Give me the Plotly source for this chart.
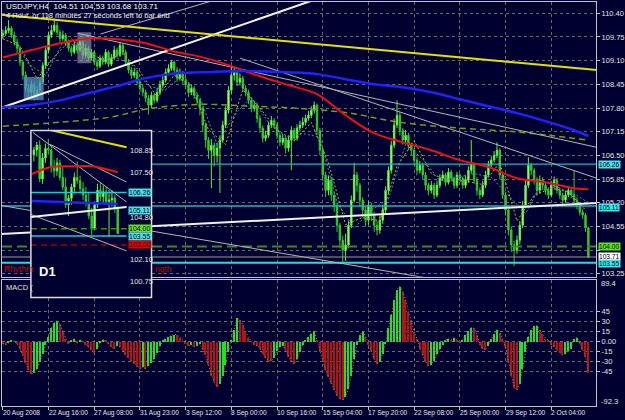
import plotly.graph_objects as go

# ---------------- H4 candles : USDJPY, 20 Aug - 3 Oct 2008 ----------------
BARS = list(range(206))
OPEN = [
    109.80, 109.85, 109.93, 109.99, 109.80, 109.61, 109.44, 109.06, 108.70, 108.34,
    108.23, 108.43, 108.15, 108.29, 108.51, 108.97, 109.39, 109.80, 109.93, 110.07,
    109.88, 109.71, 109.80, 109.61, 109.44, 109.33, 109.52, 109.39, 109.61, 109.25,
    109.44, 109.17, 109.33, 109.06, 108.95, 109.17, 109.06, 109.33, 109.00, 109.17,
    109.39, 109.25, 109.52, 109.33, 109.06, 108.84, 108.70, 108.78, 108.51, 108.34,
    108.23, 108.07, 107.88, 108.15, 108.01, 108.23, 108.43, 108.56, 108.78, 108.89,
    109.06, 108.84, 108.62, 108.78, 108.56, 108.43, 108.23, 108.34, 108.15, 108.01,
    107.79, 107.33, 106.92, 106.64, 106.78, 106.50, 106.70, 106.92, 107.33, 107.74,
    108.29, 108.70, 108.78, 108.51, 108.62, 108.34, 108.23, 108.01, 107.79, 107.88,
    107.52, 107.25, 106.97, 107.05, 107.33, 107.46, 107.33, 107.05, 106.86, 106.97,
    106.70, 106.92, 107.19, 106.97, 107.25, 107.33, 107.41, 107.52, 107.60, 107.74,
    107.88, 107.19, 106.64, 105.96, 105.54, 105.82, 105.41, 105.13, 104.58, 104.17,
    103.90, 104.04, 104.58, 105.27, 105.96, 105.68, 105.27, 105.00, 104.72, 105.13,
    104.86, 104.58, 104.45, 104.72, 105.00, 105.54, 106.09, 106.78, 107.33, 107.60,
    107.19, 106.92, 107.05, 106.78, 106.64, 106.37, 106.09, 106.23, 105.96, 105.68,
    105.54, 105.68, 105.41, 105.68, 105.87, 105.96, 105.76, 106.04, 105.87, 105.68,
    105.96, 105.87, 105.68, 105.82, 106.09, 106.23, 105.82, 105.54, 105.41, 105.68,
    105.96, 106.23, 106.37, 106.50, 106.64, 105.96, 105.41, 105.00, 104.45, 104.04,
    103.90, 104.17, 104.58, 105.13, 105.68, 106.23, 106.09, 105.82, 105.54, 105.82,
    105.68, 105.54, 105.41, 105.68, 105.82, 105.54, 105.41, 105.27, 105.41, 105.54,
    105.41, 105.27, 105.13, 104.94, 104.86, 104.51]
HIGH = [
    109.95, 110.05, 110.21, 110.05, 109.90, 109.70, 109.50, 109.12, 108.80, 108.45,
    108.55, 108.50, 108.40, 108.62, 109.05, 109.50, 109.90, 110.08, 110.26, 110.15,
    109.95, 109.92, 109.86, 109.68, 109.50, 109.62, 109.60, 109.72, 109.66, 109.55,
    109.50, 109.42, 109.38, 109.15, 109.25, 109.24, 109.42, 109.38, 109.28, 109.50,
    109.46, 109.62, 109.58, 109.40, 109.12, 108.92, 108.90, 108.85, 108.60, 108.45,
    108.30, 108.15, 108.25, 108.22, 108.35, 108.55, 108.70, 108.88, 109.00, 109.12,
    109.10, 108.92, 108.88, 108.82, 108.65, 108.50, 108.45, 108.40, 108.22, 108.08,
    107.85, 107.40, 107.00, 106.95, 106.85, 106.85, 107.05, 107.45, 107.85, 108.40,
    108.92, 108.90, 108.85, 108.75, 108.68, 108.42, 108.30, 108.08, 108.00, 107.95,
    107.60, 107.32, 107.18, 107.42, 107.58, 107.52, 107.40, 107.12, 107.08, 107.02,
    107.05, 107.30, 107.25, 107.35, 107.45, 107.55, 107.62, 107.72, 107.85, 107.98,
    107.92, 107.25, 106.70, 106.05, 105.95, 105.90, 105.50, 105.20, 104.65, 104.30,
    104.35, 104.70, 105.40, 106.30, 106.05, 105.75, 105.35, 105.10, 105.25, 105.20,
    104.95, 104.70, 104.85, 105.15, 105.65, 106.20, 106.90, 107.50, 108.01, 107.70,
    107.25, 107.20, 107.12, 106.85, 106.70, 106.45, 106.35, 106.30, 106.05, 105.75,
    105.80, 105.75, 105.80, 105.98, 106.08, 106.02, 106.15, 106.10, 105.92, 106.05,
    106.02, 105.92, 105.95, 106.20, 106.92, 106.30, 105.90, 105.62, 105.80, 106.08,
    106.35, 106.48, 106.62, 106.86, 106.70, 106.02, 105.50, 105.08, 104.55, 104.15,
    104.30, 104.70, 105.25, 105.80, 106.45, 106.30, 106.15, 105.90, 105.95, 105.90,
    105.75, 105.62, 105.80, 105.92, 105.88, 105.60, 105.48, 105.52, 105.62, 105.60,
    106.09, 105.35, 105.20, 105.02, 104.92, 104.53]
LOW = [
    109.70, 109.78, 109.85, 109.72, 109.52, 109.30, 108.95, 108.58, 108.25, 108.05,
    108.12, 108.01, 108.05, 108.20, 108.45, 108.90, 109.30, 109.72, 109.88, 109.80,
    109.60, 109.65, 109.50, 109.35, 109.22, 109.28, 109.30, 109.34, 109.15, 109.18,
    109.08, 109.10, 108.98, 108.85, 108.90, 108.98, 109.00, 108.92, 108.95, 109.12,
    109.18, 109.20, 109.25, 108.98, 108.75, 108.60, 108.62, 108.42, 108.25, 108.12,
    107.95, 107.62, 107.80, 107.92, 107.95, 108.15, 108.35, 108.50, 108.70, 108.82,
    108.75, 108.52, 108.55, 108.45, 108.32, 108.10, 108.15, 108.05, 107.90, 107.60,
    107.15, 106.70, 106.40, 105.60, 106.20, 106.30, 105.47, 106.85, 107.25, 107.65,
    108.20, 108.55, 108.40, 108.42, 108.25, 108.12, 107.90, 107.68, 107.70, 107.40,
    107.12, 106.85, 106.88, 106.98, 107.25, 107.22, 106.95, 106.75, 106.78, 106.55,
    106.60, 106.09, 106.88, 106.90, 107.15, 107.25, 107.32, 107.45, 107.52, 107.65,
    107.05, 106.50, 105.80, 105.35, 105.40, 105.25, 104.95, 104.40, 103.95, 103.57,
    103.60, 103.95, 104.50, 105.20, 105.50, 105.10, 104.80, 104.55, 104.60, 104.70,
    104.40, 104.30, 104.35, 104.62, 104.90, 105.45, 106.00, 106.70, 107.25, 107.05,
    106.80, 106.85, 106.65, 106.50, 106.25, 105.95, 106.00, 105.85, 105.55, 105.40,
    105.45, 105.30, 105.35, 105.60, 105.80, 105.65, 105.70, 105.78, 105.58, 105.60,
    105.78, 105.58, 105.60, 105.75, 106.00, 105.72, 105.40, 105.30, 105.35, 105.60,
    105.90, 106.15, 106.30, 106.42, 105.85, 105.30, 104.85, 104.30, 103.85, 103.46,
    103.80, 104.05, 104.50, 105.05, 105.60, 105.95, 105.70, 105.40, 105.45, 105.55,
    105.42, 105.30, 105.35, 105.60, 105.45, 105.30, 105.15, 105.20, 105.35, 105.32,
    105.20, 105.02, 104.85, 104.75, 104.40, 103.68]
CLOSE = [
    109.85, 109.93, 109.99, 109.80, 109.61, 109.44, 109.06, 108.70, 108.34, 108.23,
    108.43, 108.15, 108.29, 108.51, 108.97, 109.39, 109.80, 109.93, 110.07, 109.88,
    109.71, 109.80, 109.61, 109.44, 109.33, 109.52, 109.39, 109.61, 109.25, 109.44,
    109.17, 109.33, 109.06, 108.95, 109.17, 109.06, 109.33, 109.00, 109.17, 109.39,
    109.25, 109.52, 109.33, 109.06, 108.84, 108.70, 108.78, 108.51, 108.34, 108.23,
    108.07, 107.88, 108.15, 108.01, 108.23, 108.43, 108.56, 108.78, 108.89, 109.06,
    108.84, 108.62, 108.78, 108.56, 108.43, 108.23, 108.34, 108.15, 108.01, 107.79,
    107.33, 106.92, 106.64, 106.78, 106.50, 106.70, 106.92, 107.33, 107.74, 108.29,
    108.70, 108.78, 108.51, 108.62, 108.34, 108.23, 108.01, 107.79, 107.88, 107.52,
    107.25, 106.97, 107.05, 107.33, 107.46, 107.33, 107.05, 106.86, 106.97, 106.70,
    106.92, 107.19, 106.97, 107.25, 107.33, 107.41, 107.52, 107.60, 107.74, 107.88,
    107.19, 106.64, 105.96, 105.54, 105.82, 105.41, 105.13, 104.58, 104.17, 103.90,
    104.04, 104.58, 105.27, 105.96, 105.68, 105.27, 105.00, 104.72, 105.13, 104.86,
    104.58, 104.45, 104.72, 105.00, 105.54, 106.09, 106.78, 107.33, 107.60, 107.19,
    106.92, 107.05, 106.78, 106.64, 106.37, 106.09, 106.23, 105.96, 105.68, 105.54,
    105.68, 105.41, 105.68, 105.87, 105.96, 105.76, 106.04, 105.87, 105.68, 105.96,
    105.87, 105.68, 105.82, 106.09, 106.23, 105.82, 105.54, 105.41, 105.68, 105.96,
    106.23, 106.37, 106.50, 106.64, 105.96, 105.41, 105.00, 104.45, 104.04, 103.90,
    104.17, 104.58, 105.13, 105.68, 106.23, 106.09, 105.82, 105.54, 105.82, 105.68,
    105.54, 105.41, 105.68, 105.82, 105.54, 105.41, 105.27, 105.41, 105.54, 105.41,
    105.27, 105.13, 104.94, 104.86, 104.51, 103.71]

# MACD histogram (one value per H4 bar)
MACD = [
    -3, -5, -2, 2, 0, -3, -10, -20, -32, -42,
    -48, -47, -40, -30, -18, -5, 8, 20, 28, 31,
    26, 15, 5, -3, 2, 4, -2, 3, 1, -4,
    -8, -12, -16, -10, -2, 3, 2, -3, -8, -10,
    -6, -8, -14, -20, -24, -28, -33, -37, -40, -38,
    -40, -36, -32, -25, -16, -6, 2, 5, 7, 9,
    11, 10, 6, 1, -3, -6, -5, -8, -6, -3,
    -12, -20, -35, -50, -60, -67, -62, -50, -35, -15,
    2, 18, 35, 32, 25, 15, 6, 0, -4, -6,
    -10, -18, -24, -28, -29, -24, -14, -8, -6, -12,
    -22, -30, -33, -26, -15, -4, 3, 8, 12, 16,
    2, -15, -28, -42, -52, -62, -72, -80, -85, -87,
    -82, -70, -50, -25, -5, 10, 15, 8, -5, -15,
    -25, -33, -30, -18, -3, 20, 40, 62, 78, 82,
    75, 62, 45, 30, 15, 4, -10, -20, -30, -36,
    -34, -28, -18, -10, -4, 2, 5, 3, 6, 2,
    -2, 3, 10, 16, 21, 20, 10, -4, -10, -12,
    -6, 4, 12, 18, 14, 4, -8, -28, -50, -68,
    -72, -62, -40, -15, 8, 18, 23, 24, 18, 12,
    5, 2, -4, -8, -12, -16, -20, -18, -14, -10,
    4, 6, -3, -12, -22, -46]

# moving averages (sampled at bars)
MA_X = [0, 10, 20, 30, 40, 50, 60, 70, 80, 90, 100, 110, 120, 130, 140, 150, 160, 170, 180, 190, 200, 205]
MA_RED = [109.19, 109.39, 109.58, 109.71, 109.69, 109.58, 109.35, 109.19, 108.95, 108.67, 108.43,
          108.18, 107.60, 107.11, 106.86, 106.64, 106.37, 106.18, 105.87, 105.76, 105.60, 105.57]
MA_BLUE = [107.82, 107.88, 108.01, 108.21, 108.40, 108.62, 108.75, 108.78, 108.81, 108.81, 108.78,
           108.73, 108.59, 108.45, 108.37, 108.23, 108.04, 107.85, 107.66, 107.44, 107.19, 107.03]
MA_OLIVE_X = [0, 20.2, 37.6, 51.6, 69, 86.4, 103.8, 121.3, 138.7, 159.6, 180.5, 204.9]
MA_OLIVE = [107.30, 107.41, 107.55, 107.79, 107.90, 107.85, 107.79, 107.66, 107.41, 107.25, 107.14, 106.92]
DOT_Y_X = [0, 6, 12, 18, 24, 30, 36, 42, 48, 54, 60, 66, 72, 78, 84, 90, 96, 102, 108, 114, 120,
           126, 132, 138, 144, 150, 156, 162, 168, 174, 180, 186, 192, 198, 204]
DOT_Y = [109.7, 109.5, 108.6, 109.2, 109.7, 109.3, 109.1, 109.3, 108.8, 108.1, 108.7, 108.4, 107.2,
         106.8, 108.3, 107.8, 107.2, 106.9, 107.4, 106.3, 104.6, 104.8, 104.7, 106.2, 106.9, 106.0,
         105.8, 105.8, 105.7, 106.3, 104.7, 105.4, 105.6, 105.5, 105.0]
DOT_C_X = [3, 9, 15, 21, 27, 33, 39, 45, 51, 57, 63, 69, 75, 81, 87, 93, 99, 105, 111, 117, 123,
           129, 135, 141, 147, 153, 159, 165, 171, 177, 183, 189, 195, 201, 205]
DOT_C = [109.8, 109.0, 108.7, 109.6, 109.5, 109.1, 109.2, 109.0, 108.4, 108.3, 108.7, 108.1, 106.8,
         107.6, 108.1, 107.4, 107.0, 107.1, 107.0, 105.2, 104.5, 105.0, 105.3, 106.8, 106.4, 105.8,
         105.9, 106.0, 105.9, 105.4, 104.9, 105.8, 105.6, 105.4, 105.2]

# trend lines: (bars, prices)
TL_YELLOW = ([-1, 208], [110.36, 108.84])
TL_WHITE_UP = ([0, 115], [107.82, 110.93])
TL_WHITE_LOW = ([-1, 208], [104.34, 105.19])
TL_GRAY = [([26.2, 208], [109.85, 106.72]),
           ([83, 208], [109.17, 105.87]),
           ([-1, 208], [105.13, 102.34]),
           ([34.1, 90], [109.83, 111.13])]

# horizontal levels
CYAN_LEVELS = [106.26, 105.11]
CYAN_STRONG = 103.55
GREEN_LEVEL = 104.00
BID = 103.71

# shaded zones (bar0, bar1, price0, price1)
BLUE_ZONE = (7.3, 14.3, 108.01, 108.65)
GRAY_ZONE = (26.1, 31.0, 109.03, 109.88)

PRICE_TICKS = [110.40, 109.75, 109.10, 108.45, 107.80, 107.15, 106.50, 105.85, 105.20, 104.55, 103.90, 103.25]
PRICE_TICKTEXT = ["110.40", "109.75", "109.10", "108.45", "107.80", "107.15", "106.50", "105.85",
                  "105.20", "104.55", "", "103.25"]
MACD_TICKS = [45, 30, 15, 0, -15, -30, -45]
MACD_TICKTEXT = ["45", "30", "15", "0.00", "-15", "-30", "-45"]
TIME_TICKS = [0, 16, 32, 48, 64, 80, 96, 112, 128, 144, 160, 176, 192]
TIME_LABELS = ["20 Aug 2008", "22 Aug 16:00", "27 Aug 08:00", "31 Aug 23:00", "3 Sep 12:00",
               "8 Sep 00:00", "10 Sep 16:00", "15 Sep 04:00", "17 Sep 20:00", "22 Sep 08:00",
               "25 Sep 00:00", "29 Sep 12:00", "2 Oct 04:00"]

# ---------------- D1 inset ----------------
D_BARS = list(range(30))
D_OPEN = [108.60, 108.90, 109.20, 107.10, 108.40, 109.00, 108.90, 107.80, 107.60, 108.10,
          107.20, 106.60, 105.50, 105.90, 106.60, 107.20, 107.00, 106.50, 106.10, 105.60,
          104.80, 104.00, 105.50, 106.40, 106.00, 106.30, 105.70, 105.80, 105.90, 105.30]
D_HIGH = [109.10, 109.40, 109.50, 108.70, 109.30, 109.60, 109.20, 108.30, 108.40, 108.30,
          107.90, 107.20, 106.10, 106.80, 107.50, 108.20, 107.30, 106.90, 106.60, 106.30,
          105.30, 105.70, 106.80, 106.90, 106.70, 106.60, 106.40, 106.40, 106.10, 105.40]
D_LOW = [108.20, 108.50, 106.90, 106.80, 108.10, 108.60, 107.50, 107.20, 107.30, 107.00,
         106.40, 105.30, 104.80, 105.50, 106.20, 106.80, 106.20, 105.80, 105.40, 104.60,
         103.60, 103.90, 105.30, 105.70, 105.60, 105.50, 103.50, 105.40, 105.00, 103.68]
D_CLOSE = [108.90, 109.20, 107.10, 108.40, 109.00, 108.90, 107.80, 107.60, 108.10, 107.20,
           106.60, 105.50, 105.90, 106.60, 107.20, 107.00, 106.50, 106.10, 105.60, 104.80,
           104.00, 105.50, 106.40, 106.00, 106.30, 105.70, 105.80, 105.90, 105.30, 103.71]
IN_YELLOW = ([0, 32.07], [110.37, 109.07])
IN_RED_X = [-0.7, 5.5, 14.8, 20.3, 29]
IN_RED = [107.40, 107.83, 107.89, 107.89, 107.52]
IN_BLUE = ([-0.7, 29], [105.73, 105.54])
IN_WHITE = ([-1.03, 32.07], [104.74, 105.36])
IN_GRAYS = [([-0.34, 32.07], [109.99, 105.67]),
            ([5.5, 32.07], [109.26, 106.91]),
            ([-1.38, 32.07], [104.92, 102.63])]
IN_CYAN = [106.26, 103.55]
IN_GREEN = 104.00
IN_RED_LEVEL = 103.00
IN_TICKS = [108.85, 107.50, 106.15, 104.80, 103.45, 102.10, 100.75]
IN_TICK_SHOWN = [108.85, 107.50, 104.80, 102.10, 100.75]
IN_VGRID = [0, 8, 16, 24]
IN_AXIS_K = 32.07

# ---------------- style ----------------
BG = "#000030"
GRID = "#6a6a6a"
AXC = "#c4c4c4"
TXT = "#e4e4e4"
FONT = "Liberation Sans"
W, H = 625, 420
XR = [-0.3, 207.7]
YR = [103.17, 110.71]
Y2R = [-96, 92.2]
X3R = [-1.03, 40.69]
Y3R = [99.73, 110.12]


def dx(a, b):
    return [a / W, b / W]


def dy(top, bottom):
    return [1 - bottom / H, 1 - top / H]


fig = go.Figure()


def line(x, y, color, width=1, dash="solid", axes=("x", "y"), shape="linear"):
    fig.add_trace(go.Scatter(x=x, y=y, mode="lines", xaxis=axes[0], yaxis=axes[1],
                             line=dict(color=color, width=width, dash=dash, shape=shape),
                             hoverinfo="skip", showlegend=False))


candle_style = dict(
    increasing=dict(line=dict(color="#5cf03c", width=1), fillcolor="#c6ffb0"),
    decreasing=dict(line=dict(color="#36c82a", width=1), fillcolor="#36c82a"),
    whiskerwidth=0, hoverinfo="skip", showlegend=False)

# ---- main pane ----
fig.add_trace(go.Candlestick(x=BARS, open=OPEN, high=HIGH, low=LOW, close=CLOSE,
                             xaxis="x", yaxis="y", **candle_style))
for z, col in ((BLUE_ZONE, "rgba(80,140,190,0.78)"), (GRAY_ZONE, "rgba(150,155,175,0.62)")):
    fig.add_trace(go.Scatter(x=[z[0], z[1], z[1], z[0], z[0]], y=[z[2], z[2], z[3], z[3], z[2]],
                             fill="toself", fillcolor=col, mode="none", xaxis="x", yaxis="y",
                             hoverinfo="skip", showlegend=False))
line(MA_OLIVE_X, MA_OLIVE, "#7a9a1a", 1.5, "6px,4px", shape="spline")
line(DOT_Y_X, DOT_Y, "#c8b400", 1, "2px,2px")
line(DOT_C_X, DOT_C, "#20a8b0", 1, "2px,2px")
for lv in CYAN_LEVELS:
    line(XR, [lv, lv], "#1fb4bc", 1.3)
line(XR, [CYAN_STRONG, CYAN_STRONG], "#2ed8e0", 2)
line(XR, [GREEN_LEVEL, GREEN_LEVEL], "#3a8c1c", 2, "10px,5px")
line(XR, [BID, BID], "#9a9a9a", 1)
for xs, ys in TL_GRAY:
    line(xs, ys, "#b4b4b4", 1)
line(TL_WHITE_LOW[0], TL_WHITE_LOW[1], "#f0f0f0", 2)
line(TL_WHITE_UP[0], TL_WHITE_UP[1], "#f4f4f4", 2)
line(TL_YELLOW[0], TL_YELLOW[1], "#e2e200", 2)
line(MA_X, MA_RED, "#f01010", 2, shape="spline")
line(MA_X, MA_BLUE, "#2222ff", 2.5, shape="spline")

# ---- MACD pane ----
colors = ["#22e022" if (i > 0 and MACD[i] > MACD[i - 1]) else "#b01414" for i in range(len(MACD))]
fig.add_trace(go.Bar(x=BARS, y=MACD, marker=dict(color=colors, line=dict(width=0)), width=0.5,
                     xaxis="x2", yaxis="y2", hoverinfo="skip", showlegend=False))
line(BARS, MACD, "#8c8c8c", 1, "1px,2px", axes=("x2", "y2"))

# ---- D1 inset: background layer (x3/y3) ----
BA = ("x3", "y3")
fig.add_trace(go.Scatter(x=[X3R[0], X3R[1], X3R[1], X3R[0], X3R[0]],
                         y=[Y3R[0], Y3R[0], Y3R[1], Y3R[1], Y3R[0]],
                         fill="toself", fillcolor=BG, mode="none", xaxis="x3", yaxis="y3",
                         hoverinfo="skip", showlegend=False))
for k in IN_VGRID:
    line([k, k], Y3R, GRID, 1, "3px,3px", axes=BA)
for t in IN_TICKS:
    line([X3R[0], IN_AXIS_K], [t, t], GRID, 1, "3px,3px", axes=BA)
line([IN_AXIS_K, IN_AXIS_K], Y3R, AXC, 1, axes=BA)

# ---- D1 inset: content layer (x4/y4) ----
IA = ("x4", "y4")
fig.add_trace(go.Candlestick(x=D_BARS, open=D_OPEN, high=D_HIGH, low=D_LOW, close=D_CLOSE,
                             xaxis="x4", yaxis="y4", **candle_style))
for lv in IN_CYAN:
    line([X3R[0], IN_AXIS_K], [lv, lv], "#22c8d0", 1.5, axes=IA)
line([X3R[0], IN_AXIS_K], [IN_GREEN, IN_GREEN], "#3a8c1c", 1.5, "6px,4px", axes=IA)
line([X3R[0], IN_AXIS_K], [IN_RED_LEVEL, IN_RED_LEVEL], "#a00000", 1.5, "6px,4px", axes=IA)
for xs, ys in IN_GRAYS:
    line(xs, ys, "#b4b4b4", 1, axes=IA)
line(IN_WHITE[0], IN_WHITE[1], "#f0f0f0", 2, axes=IA)
line(IN_YELLOW[0], IN_YELLOW[1], "#e2e200", 2, axes=IA)
line(IN_RED_X, IN_RED, "#f01010", 2, axes=IA, shape="spline")
line(IN_BLUE[0], IN_BLUE[1], "#2222ff", 2.5, axes=IA)

# ---------------- annotations ----------------
ann = []
sm = dict(family=FONT, size=7.5, color=TXT)
xs_font = dict(family=FONT, size=6.6, color=TXT)


def label_box(text, y, yref, x, xref, bg, fg="#000000", yshift=0, size=7.0):
    ann.append(dict(text=text, x=x, xref=xref, y=y, yref=yref, xanchor="left", yanchor="middle",
                    showarrow=False, bgcolor=bg, borderpad=0, yshift=yshift,
                    font=dict(family=FONT, size=size, color=fg)))


for t in IN_TICK_SHOWN:
    ann.append(dict(text=f"{t:.2f}", x=IN_AXIS_K + 0.5, xref="x3", y=t, yref="y3",
                    xanchor="left", yanchor="middle", showarrow=False, font=sm,
                    yshift=-2 if t == 104.80 else 0))
for txt, val, bg, fg in (("106.26", 106.26, "#3ee6ee", "#000"), ("105.11", 105.11, "#3ee6ee", "#000"),
                         ("104.00", 104.00, "#66e01c", "#000"), ("103.55", 103.55, "#3ee6ee", "#000"),
                         ("103.00", 103.00, "#e00000", "#400000")):
    label_box(txt, val, "y3", IN_AXIS_K + 0.5, "x3", bg, fg)

for txt, val, bg, ys in (("106.26", 106.26, "#3ee6ee", 0), ("105.11", 105.11, "#3ee6ee", -1),
                         ("104.00", 104.00, "#66e01c", 0), ("103.71", 103.71, "#ffffff", 1),
                         ("103.55", 103.55, "#3ee6ee", -1)):
    label_box(txt, val, "y", 600 / W, "paper", bg, yshift=ys, size=6.6)

for tv, tl in zip(TIME_TICKS, TIME_LABELS):
    ann.append(dict(text=tl, x=tv, xref="x2", y=1 - 414.5 / H, yref="paper", xanchor="left",
                    yanchor="middle", showarrow=False, xshift=-2, font=xs_font))

ann.append(dict(text="89.4", x=601 / W, xref="paper", y=86.5, yref="y2", xanchor="left",
                yanchor="middle", showarrow=False, font=sm))
ann.append(dict(text="-92.3", x=601 / W, xref="paper", y=-89, yref="y2", xanchor="left",
                yanchor="middle", showarrow=False, font=sm))
ann.append(dict(text="USDJPY,H4  104.51 104.53 103.68 103.71", x=4 / W, xref="paper",
                y=1 - 7 / H, yref="paper", xanchor="left", yanchor="middle", showarrow=False,
                font=dict(family=FONT, size=8, color="#ffffff")))
ann.append(dict(text="4 Hour, or 118 minutes 27 seconds left to bar end", x=4 / W, xref="paper",
                y=1 - 15.5 / H, yref="paper", xanchor="left", yanchor="middle", showarrow=False,
                font=dict(family=FONT, size=7.5, color="#f0f0f0")))
ann.append(dict(text="Rhythm", x=2 / W, xref="paper", y=1 - 270 / H, yref="paper", xanchor="left",
                yanchor="middle", showarrow=False, font=dict(family=FONT, size=8.5, color="#c80000")))
ann.append(dict(text="ngth", x=153 / W, xref="paper", y=1 - 270 / H, yref="paper", xanchor="left",
                yanchor="middle", showarrow=False, font=dict(family=FONT, size=8.5, color="#c80000")))
ann.append(dict(text="MACD (", x=4 / W, xref="paper", y=1 - 289 / H, yref="paper", xanchor="left",
                yanchor="middle", showarrow=False, font=dict(family=FONT, size=7.5, color="#e0e0e0")))
ann.append(dict(text="<b>D1</b>", x=37 / W, xref="paper", y=1 - 273 / H, yref="paper",
                xanchor="left", yanchor="middle", showarrow=False,
                font=dict(family=FONT, size=13, color="#ffffff")))

grid = dict(showgrid=True, gridcolor=GRID, gridwidth=1, griddash="3px,3px")
inset_x = dict(domain=dx(31, 152), range=X3R, visible=False, rangeslider=dict(visible=False))
inset_y = dict(domain=dy(131, 299), range=Y3R, visible=False)
fig.update_layout(
    width=W, height=H, margin=dict(l=0, r=0, t=0, b=0),
    paper_bgcolor=BG, plot_bgcolor=BG, showlegend=False, hovermode=False,
    bargap=0,
    xaxis=dict(domain=dx(2, 598), range=XR, anchor="y", tickvals=TIME_TICKS, showticklabels=False,
               ticks="", showline=True, linecolor=AXC, linewidth=1, mirror=True,
               rangeslider=dict(visible=False), zeroline=False, **grid),
    yaxis=dict(domain=dy(2, 278), range=YR, anchor="x", side="right", tickvals=PRICE_TICKS,
               ticktext=PRICE_TICKTEXT, ticks="outside", ticklen=3,
               tickcolor=AXC, tickfont=sm, showline=True, linecolor=AXC, linewidth=1, mirror=True,
               zeroline=False, **grid),
    xaxis2=dict(domain=dx(2, 598), range=XR, anchor="y2", tickvals=TIME_TICKS,
                showticklabels=False, ticks="outside", ticklen=3, tickcolor=AXC, showline=True,
                linecolor=AXC, linewidth=1, mirror=True, zeroline=False, **grid),
    yaxis2=dict(domain=dy(281, 408), range=Y2R, anchor="x2", side="right", tickvals=MACD_TICKS,
                ticktext=MACD_TICKTEXT, ticks="outside", ticklen=3, tickcolor=AXC, tickfont=sm,
                showline=True, linecolor=AXC, linewidth=1, mirror=True, zeroline=False, **grid),
    xaxis3=dict(anchor="y3", **inset_x),
    yaxis3=dict(anchor="x3", **inset_y),
    xaxis4=dict(anchor="y4", **inset_x),
    yaxis4=dict(anchor="x4", **inset_y),
    annotations=ann,
    shapes=[dict(type="rect", xref="paper", yref="paper", x0=31 / W, x1=152 / W,
                 y0=1 - 299 / H, y1=1 - 131 / H, line=dict(color="#dcdcdc", width=1.5),
                 layer="above")],
)

fig.write_html("out.html")
